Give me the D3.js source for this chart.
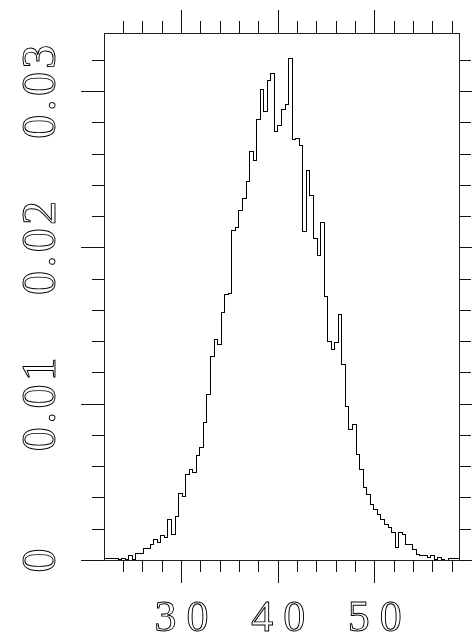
<!DOCTYPE html>
<html>
<head>
<meta charset="utf-8">
<script src="https://cdn.jsdelivr.net/npm/d3@7"></script>
<style>
  html, body { margin: 0; padding: 0; background: #fff; }
  svg { display: block; }
  .lbl { font-family: "Liberation Serif", "DejaVu Serif", serif; fill: #fff; stroke: #000; stroke-width: 0.95; }
  .labels { filter: grayscale(1); }
</style>
</head>
<body>
<svg id="chart" width="472" height="641"></svg>
<script>
// Histogram bins: first edge, bin width, and density per bin
const binStart = 22.03;
const binWidth = 0.3673;
const density = [
  0.00010, 0.00010, 0.00010, 0.00010, 0.00003, 0.00008, 0.00006, 0.00028, 0.00006, 0.00040,
  0.00040, 0.00074, 0.00074, 0.00102, 0.00128, 0.00115, 0.00154, 0.00141, 0.00260, 0.00160,
  0.00277, 0.00427, 0.00409, 0.00548, 0.00580, 0.00559, 0.00670, 0.00718, 0.00878, 0.01060,
  0.01301, 0.01412, 0.01382, 0.01582, 0.01700, 0.01706, 0.02107, 0.02129, 0.02239, 0.02310,
  0.02422, 0.02612, 0.02553, 0.02820, 0.03012, 0.02870, 0.03071, 0.03111, 0.02740, 0.02777,
  0.02884, 0.02917, 0.03210, 0.02692, 0.02700, 0.02652, 0.02100, 0.02491, 0.02331, 0.02054,
  0.01951, 0.02161, 0.01683, 0.01401, 0.01348, 0.01393, 0.01572, 0.01248, 0.00981, 0.00832,
  0.00870, 0.00672, 0.00576, 0.00461, 0.00422, 0.00352, 0.00320, 0.00288, 0.00256, 0.00230,
  0.00211, 0.00173, 0.00077, 0.00173, 0.00160, 0.00102, 0.00096, 0.00064, 0.00032, 0.00026,
  0.00026, 0.00019, 0.00026, 0.00006, 0.00013, 0.00006, 0.00000, 0.00008, 0.00008, 0.00008
];

// Axis limits and ticks
const xLimits = [22.03, 58.76];
const yLimits = [0, 0.03372];
const xMajorTicks = [30, 40, 50];
const xTickLabels = ["30", "40", "50"];
const xMinorTicks = [24, 26, 28, 32, 34, 36, 38, 42, 44, 46, 48, 52, 54, 56, 58];
const yMajorTicks = [0, 0.01, 0.02, 0.03];
const yTickLabels = ["0", "0.01", "0.02", "0.03"];
const yMinorTicks = [0.002, 0.004, 0.006, 0.008, 0.012, 0.014, 0.016, 0.018,
                     0.022, 0.024, 0.026, 0.028, 0.032];

const plot = { left: 104, right: 459, top: 33, bottom: 560 };
const majorLen = 23, minorLen = 12;

const svg = d3.select("#chart");
const x = d3.scaleLinear().domain(xLimits).range([plot.left, plot.right]);
const y = d3.scaleLinear().domain(yLimits).range([plot.bottom, plot.top]);

function tickAxis(g, axis) {
  g.call(axis);
  g.select(".domain").remove();
  g.selectAll(".tick line").attr("stroke", "#111").attr("shape-rendering", "crispEdges");
}

// Bottom axis: minor + major ticks, labels
svg.append("g").attr("transform", `translate(0,${plot.bottom})`)
  .call(g => tickAxis(g, d3.axisBottom(x).tickValues(xMinorTicks).tickSize(minorLen).tickFormat("")));
const xb = svg.append("g").attr("class", "labels").attr("transform", `translate(0,${plot.bottom})`)
  .call(g => tickAxis(g, d3.axisBottom(x).tickValues(xMajorTicks).tickSize(majorLen)
    .tickFormat((d, i) => xTickLabels[i])));
xb.selectAll(".tick text")
  .attr("class", "lbl")
  .attr("y", 71).attr("dy", null)
  .attr("font-size", 44)
  .attr("text-anchor", "middle")
  .attr("textLength", 54).attr("lengthAdjust", "spacing");
xb.attr("font-family", null).attr("font-size", null);

// Top axis: ticks only
svg.append("g").attr("transform", `translate(0,${plot.top})`)
  .call(g => tickAxis(g, d3.axisTop(x).tickValues(xMinorTicks).tickSize(minorLen).tickFormat("")));
svg.append("g").attr("transform", `translate(0,${plot.top})`)
  .call(g => tickAxis(g, d3.axisTop(x).tickValues(xMajorTicks).tickSize(majorLen).tickFormat("")));

// Left axis: ticks and rotated labels
svg.append("g").attr("transform", `translate(${plot.left},0)`)
  .call(g => tickAxis(g, d3.axisLeft(y).tickValues(yMinorTicks).tickSize(minorLen).tickFormat("")));
const yl = svg.append("g").attr("class", "labels").attr("transform", `translate(${plot.left},0)`)
  .call(g => tickAxis(g, d3.axisLeft(y).tickValues(yMajorTicks).tickSize(majorLen)
    .tickFormat((d, i) => yTickLabels[i])));
yl.selectAll(".tick text")
  .attr("class", "lbl")
  .attr("x", 0).attr("y", -49).attr("dy", null)
  .attr("transform", "rotate(-90)")
  .attr("font-size", 48)
  .attr("text-anchor", "middle")
  .each(function (d, i) {
    if (yTickLabels[i].length > 1) d3.select(this).attr("textLength", 94).attr("lengthAdjust", "spacing");
  });
yl.attr("font-family", null).attr("font-size", null);

// Right axis: ticks only
svg.append("g").attr("transform", `translate(${plot.right},0)`)
  .call(g => tickAxis(g, d3.axisRight(y).tickValues(yMinorTicks).tickSize(minorLen).tickFormat("")));
svg.append("g").attr("transform", `translate(${plot.right},0)`)
  .call(g => tickAxis(g, d3.axisRight(y).tickValues(yMajorTicks).tickSize(majorLen).tickFormat("")));

// Step outline of the histogram
const pts = density.map((d, i) => [binStart + i * binWidth, d]);
pts.push([binStart + density.length * binWidth, density[density.length - 1]]);
const step = d3.line()
  .x(d => x(d[0]))
  .y(d => y(d[1]))
  .curve(d3.curveStepAfter);

svg.append("clipPath").attr("id", "plotclip")
  .append("rect")
  .attr("x", plot.left).attr("y", plot.top)
  .attr("width", plot.right - plot.left).attr("height", plot.bottom - plot.top);

svg.append("path")
  .datum(pts)
  .attr("clip-path", "url(#plotclip)")
  .attr("fill", "none")
  .attr("stroke", "#000")
  .attr("stroke-width", 1)
  .attr("shape-rendering", "crispEdges")
  .attr("d", step);

// Plot frame
svg.append("rect")
  .attr("x", plot.left).attr("y", plot.top)
  .attr("width", plot.right - plot.left).attr("height", plot.bottom - plot.top)
  .attr("fill", "none")
  .attr("stroke", "#222")
  .attr("stroke-width", 1)
  .attr("shape-rendering", "crispEdges");
</script>
</body>
</html>
